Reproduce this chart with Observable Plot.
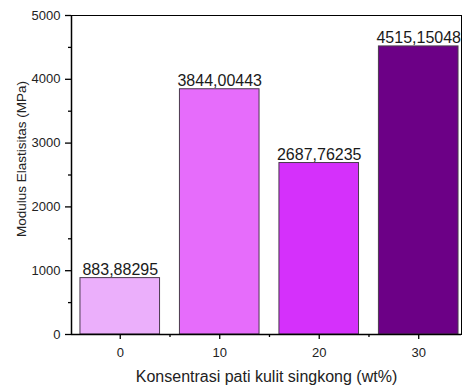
<!DOCTYPE html>
<html>
<head>
<meta charset="utf-8">
<script src="https://cdn.jsdelivr.net/npm/d3@7"></script>
<script src="https://cdn.jsdelivr.net/npm/@observablehq/plot@0.6"></script>
<style>
  html, body { margin: 0; padding: 0; background: #fff; overflow: hidden; }
  svg { display: block; }
</style>
</head>
<body>
<div id="chart"></div>
<script>
const concentrations = [0, 10, 20, 30];
const modulus = [883.88295, 3844.00443, 2687.76235, 4515.15048];
const valueLabels = ["883,88295", "3844,00443", "2687,76235", "4515,15048"];
const barColors = ["#ebaffb", "#e66cfb", "#d530fb", "#6c0086"];
const yTicks = [0, 1000, 2000, 3000, 4000, 5000];
const yMinorTicks = [500, 1500, 2500, 3500, 4500];
const xMinorTicks = [5, 15, 25];
const halfBar = 4;

const data = concentrations.map((c, i) => ({
  conc: c, value: modulus[i], label: valueLabels[i], color: barColors[i]
}));

const font = "'Liberation Sans', Arial, sans-serif";

const chart = Plot.plot({
  width: 464,
  height: 385,
  marginLeft: 71,
  marginRight: 3,
  marginTop: 15,
  marginBottom: 51,
  style: { fontFamily: font, background: "#fff", color: "#222" },
  x: { domain: [-4.9, 34.3], axis: null },
  y: { domain: [0, 5000], axis: null },
  marks: [
    Plot.rectY(data, {
      x1: d => d.conc - halfBar,
      x2: d => d.conc + halfBar,
      y: "value",
      fill: "color",
      stroke: "#4a3a4e",
      strokeWidth: 1
    }),
    Plot.frame({ stroke: "#000", strokeWidth: 1 }),
    Plot.axisY(yTicks, {
      anchor: "left", tickSize: 6, tickPadding: 5, fontSize: 13,
      tickFormat: d => String(d),
      stroke: "#000", strokeWidth: 1.3, label: null, color: "#222"
    }),
    Plot.axisY(yMinorTicks, {
      anchor: "left", tickSize: 3, text: null, stroke: "#000", strokeWidth: 1.3, label: null
    }),
    Plot.axisX(concentrations, {
      anchor: "bottom", tickSize: 5, tickPadding: 8, fontSize: 13,
      tickFormat: d => String(d),
      stroke: "#000", strokeWidth: 1.3, label: null, color: "#222"
    }),
    Plot.axisX(xMinorTicks, {
      anchor: "bottom", tickSize: 3, text: null, stroke: "#000", strokeWidth: 1.3, label: null
    }),
    Plot.ruleX([-4.9], { stroke: "#000", strokeWidth: 1.5 }),
    Plot.ruleY([0], { stroke: "#000", strokeWidth: 1.5 }),
    Plot.text(data, {
      x: "conc", y: "value", text: "label", dy: -3,
      lineAnchor: "bottom", fontSize: 16, fill: "#1a1a1a"
    }),
    Plot.text(["Modulus Elastisitas (MPa)"], {
      frameAnchor: "left", textAnchor: "middle", rotate: -90, dx: -50, dy: -16,
      fontSize: 13.5, fill: "#222"
    }),
    Plot.text(["Konsentrasi pati kulit singkong (wt%)"], {
      frameAnchor: "bottom", dy: 47, lineAnchor: "bottom",
      fontSize: 16, fill: "#222"
    })
  ]
});

document.getElementById("chart").appendChild(chart);
</script>
</body>
</html>
